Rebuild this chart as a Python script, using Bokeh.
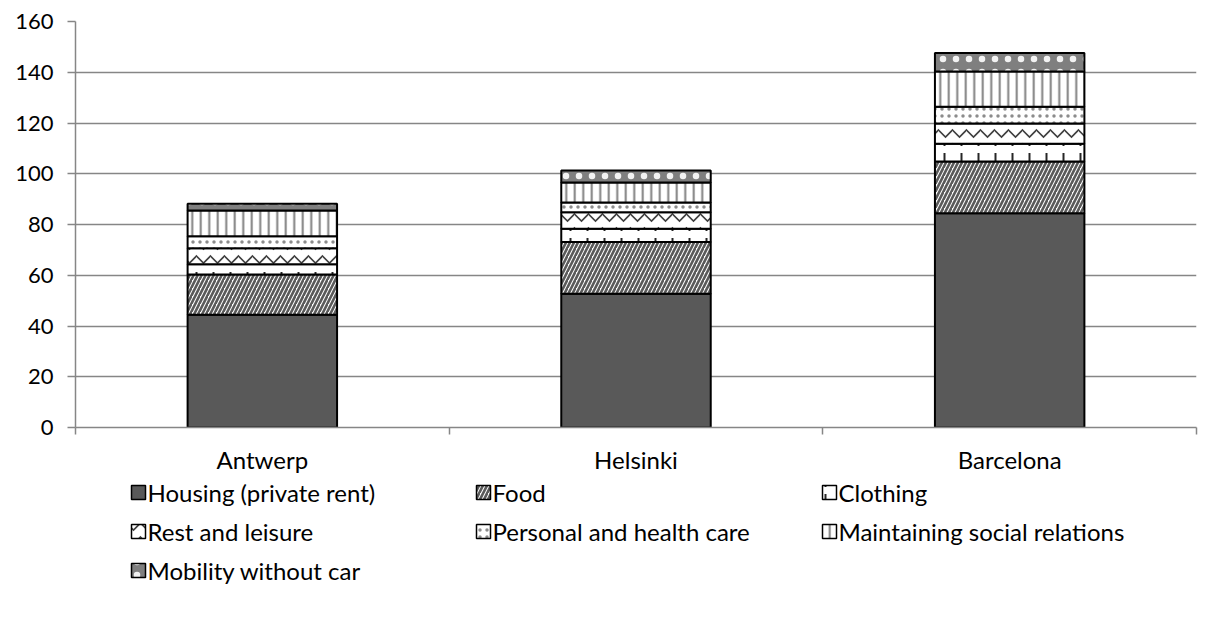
import numpy as np
from bokeh.plotting import figure
from bokeh.models import Range1d, FixedTicker, ColumnDataSource
from bokeh.layouts import column
from bokeh.core.properties import value
from bokeh.embed import file_html
from bokeh.resources import INLINE

# ---- data ----
categories = ["Antwerp", "Helsinki", "Barcelona"]
series = ["Housing (private rent)", "Food", "Clothing", "Rest and leisure",
          "Personal and health care", "Maintaining social relations", "Mobility without car"]
housing = [44.4, 52.7, 84.4]
food = [15.9, 20.4, 20.4]
clothing = [4.0, 5.2, 7.0]
rest_leisure = [6.3, 6.5, 8.0]
personal_care = [4.8, 3.9, 6.6]
social_relations = [10.1, 7.9, 13.9]
mobility = [2.7, 4.7, 7.3]
y_ticks = [0, 20, 40, 60, 80, 100, 120, 140, 160]

values = [housing, food, clothing, rest_leisure, personal_care, social_relations, mobility]

# ---- styles ----
FONT = "Lato"
FS = "24px"
FS_Y = "22px"
GRID = "#868686"

styles = [
    dict(fill_color="#595959"),
    dict(fill_color="white", hatch_pattern="/", hatch_color="#5a5a5a", hatch_scale=8, hatch_weight=2.6),
    dict(fill_color="white", hatch_pattern=":", hatch_color="#262626", hatch_scale=17, hatch_weight=2),
    dict(fill_color="white", hatch_pattern="v", hatch_color="#404040", hatch_scale=14, hatch_weight=1.6),
    dict(fill_color="white", hatch_pattern=".", hatch_color="#8c8c8c", hatch_scale=7, hatch_weight=0.8),
    dict(fill_color="white", hatch_pattern="|", hatch_color="#808080", hatch_scale=8.5, hatch_weight=2),
    dict(fill_color="#7f7f7f", hatch_pattern=".", hatch_color="white", hatch_scale=13,
         hatch_weight=0.5, hatch_alpha=0.9),
]

W = 1198
H1 = 477
LEFT = 75
RIGHT = 2
p = figure(width=W, height=H1, output_backend="svg", toolbar_location=None,
           x_range=Range1d(0, len(categories)), y_range=Range1d(0, 160),
           min_border_left=LEFT, min_border_right=RIGHT, min_border_top=21, min_border_bottom=H1 - 427)
p.outline_line_color = None
p.background_fill_color = "white"

xs = np.arange(len(categories)) + 0.5
bottom = np.zeros(len(categories))
for vals, st in zip(values, styles):
    top = bottom + np.array(vals)
    src = ColumnDataSource(dict(x=xs, bottom=bottom.copy(), top=top))
    p.vbar(x="x", bottom="bottom", top="top", width=0.4, source=src,
           line_color="black", line_width=2, **st)
    bottom = top

# x axis
p.xaxis.ticker = FixedTicker(ticks=list(xs), minor_ticks=list(range(len(categories) + 1)))
p.xaxis.major_label_overrides = {float(x): c for x, c in zip(xs, categories)}
p.xaxis.major_tick_out = 0
p.xaxis.major_tick_in = 0
p.xaxis.minor_tick_out = 7
p.xaxis.minor_tick_in = 0
p.xaxis.minor_tick_line_color = GRID
p.xaxis.minor_tick_line_width = 1.5
p.xaxis.axis_line_color = GRID
p.xaxis.axis_line_width = 1.5
p.xaxis.major_label_standoff = 10
p.xaxis.major_label_text_font_size = FS
p.xgrid.grid_line_color = None

# y axis
p.yaxis.ticker = FixedTicker(ticks=y_ticks)
p.yaxis.major_tick_out = 8
p.yaxis.major_tick_in = 0
p.yaxis.minor_tick_line_color = None
p.yaxis.major_tick_line_color = GRID
p.yaxis.major_tick_line_width = 1.5
p.yaxis.axis_line_color = GRID
p.yaxis.axis_line_width = 1.5
p.yaxis.major_label_standoff = 14
p.yaxis.major_label_text_font_size = FS_Y
p.ygrid.ticker = FixedTicker(ticks=y_ticks)
p.ygrid.grid_line_color = GRID
p.ygrid.grid_line_width = 1.5

for ax in (p.xaxis, p.yaxis):
    ax.major_label_text_font = FONT
    ax.major_label_text_color = "black"

# ---- legend figure (data coordinates = page pixels) ----
H2 = 132
TOP2 = H1
lg = figure(width=W, height=H2, output_backend="svg", toolbar_location=None,
            x_range=Range1d(LEFT, W - RIGHT), y_range=Range1d(TOP2 + H2, TOP2),
            min_border_left=LEFT, min_border_right=RIGHT, min_border_top=0, min_border_bottom=0)
lg.axis.visible = False
lg.grid.grid_line_color = None
lg.outline_line_color = None

col_x = [131, 476, 822]
row_y = [492, 531, 570]
box = 14
for i, (name, st) in enumerate(zip(series, styles)):
    cx = col_x[i % 3]
    cy = row_y[i // 3]
    lg.rect(x=[cx + box / 2], y=[cy], width=box, height=box, line_color="black",
            line_width=1.5, **st)
    lg.text(x=[cx + box + 2], y=[cy], text=[name], text_baseline="middle",
            text_align="left", text_font=value(FONT), text_font_size=FS, text_color="black")

layout = column(p, lg, spacing=0)
open("out.html", "w").write(file_html(layout, INLINE))
